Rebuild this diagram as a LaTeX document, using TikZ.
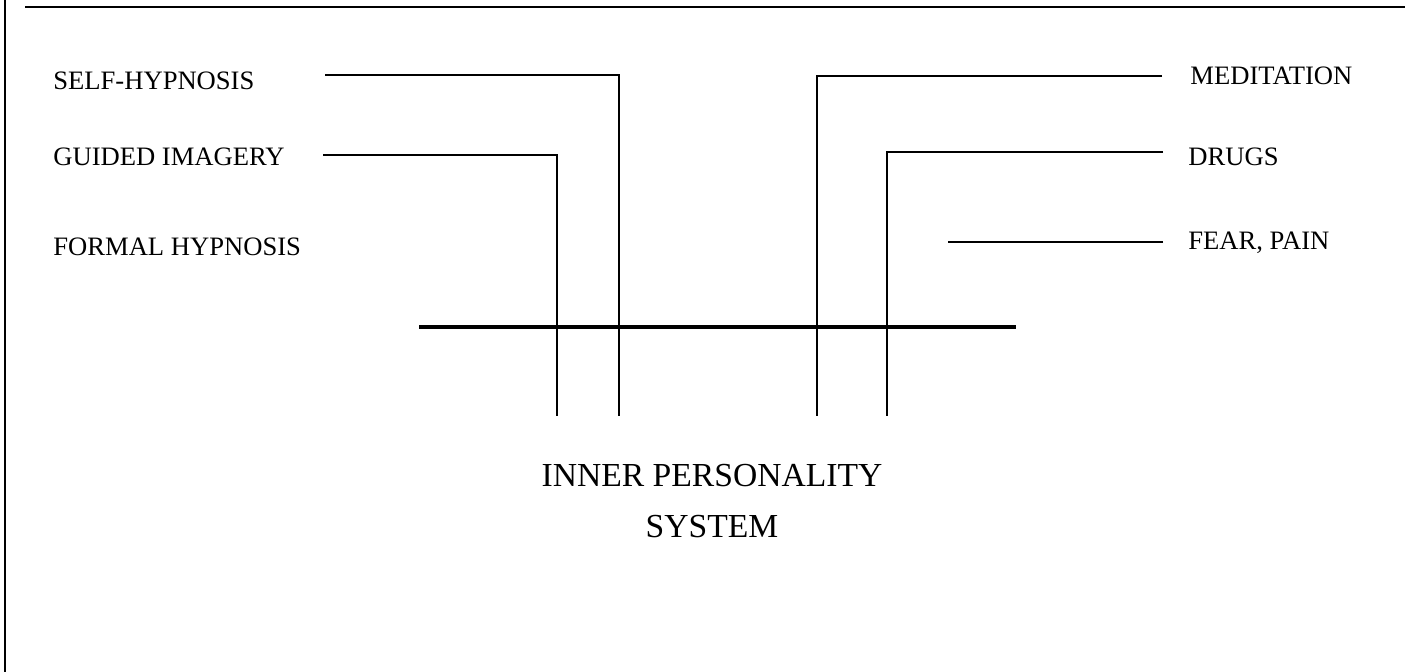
\documentclass[tikz,border=0pt]{standalone}
\usepackage{fontspec}
\setmainfont{Liberation Serif}
\usepackage{xcolor}
\usetikzlibrary{positioning,calc}
\definecolor{InkBlack}{HTML}{000000}

\begin{document}
\begin{tikzpicture}[x=0.5pt, y=-0.5pt,
    every node/.style={font=\fontsize{13.3}{15}\selectfont, inner sep=0pt, text=InkBlack},
    feed/.style={draw=InkBlack, line width=1.3pt},
    bar/.style={draw=InkBlack, line width=2.4pt},
    frame/.style={draw=InkBlack, line width=1pt}]
  \useasboundingbox (0,0) rectangle (1423,672);
  % page frame
  \coordinate (tl) at (25,7);
  \coordinate (tr) at (1405,7);
  \coordinate (lt) at (5,0);
  \coordinate (lb) at (5,672);
  \draw[frame] (tl) -- (tr);
  \draw[frame] (lt) -- (lb);

  % labels
  \foreach \n/\t/\x/\y/\a in {
    selfh/SELF-HYPNOSIS/53/81/west,
    guided/GUIDED IMAGERY/53/157/west,
    formal/FORMAL HYPNOSIS/53/247/west,
    medit/MEDITATION/1190/76/west,
    drugs/DRUGS/1188/157/west,
    fear/{FEAR, PAIN}/1188/243/west%
  }{
    \node[anchor=\a] (\n) at (\x,\y) {\t};
  }

  % threshold bar
  \coordinate (barl) at (419,327);
  \coordinate (barr) at (1016,327);
  \draw[bar] (barl) -- (barr);

  % channels into the system
  \foreach \n/\xs/\xk/\yy in {
    sh/325/619/75,
    gi/323/557/155,
    me/1162/817/76,
    dr/1163/887/152%
  }{
    \coordinate (\n-in) at (\xs,\yy);
    \coordinate (\n-end) at (\xk,416);
    \draw[feed] (\n-in) -| (\n-end);
  }
  \coordinate (fp-in) at (1163,242);
  \coordinate (fp-end) at (948,242);
  \draw[feed] (fp-in) -- (fp-end);

  \node[font=\fontsize{16.8}{25.5}\selectfont, align=center] (ips) at (712,501)
    {INNER PERSONALITY\\SYSTEM};
\end{tikzpicture}
\end{document}
